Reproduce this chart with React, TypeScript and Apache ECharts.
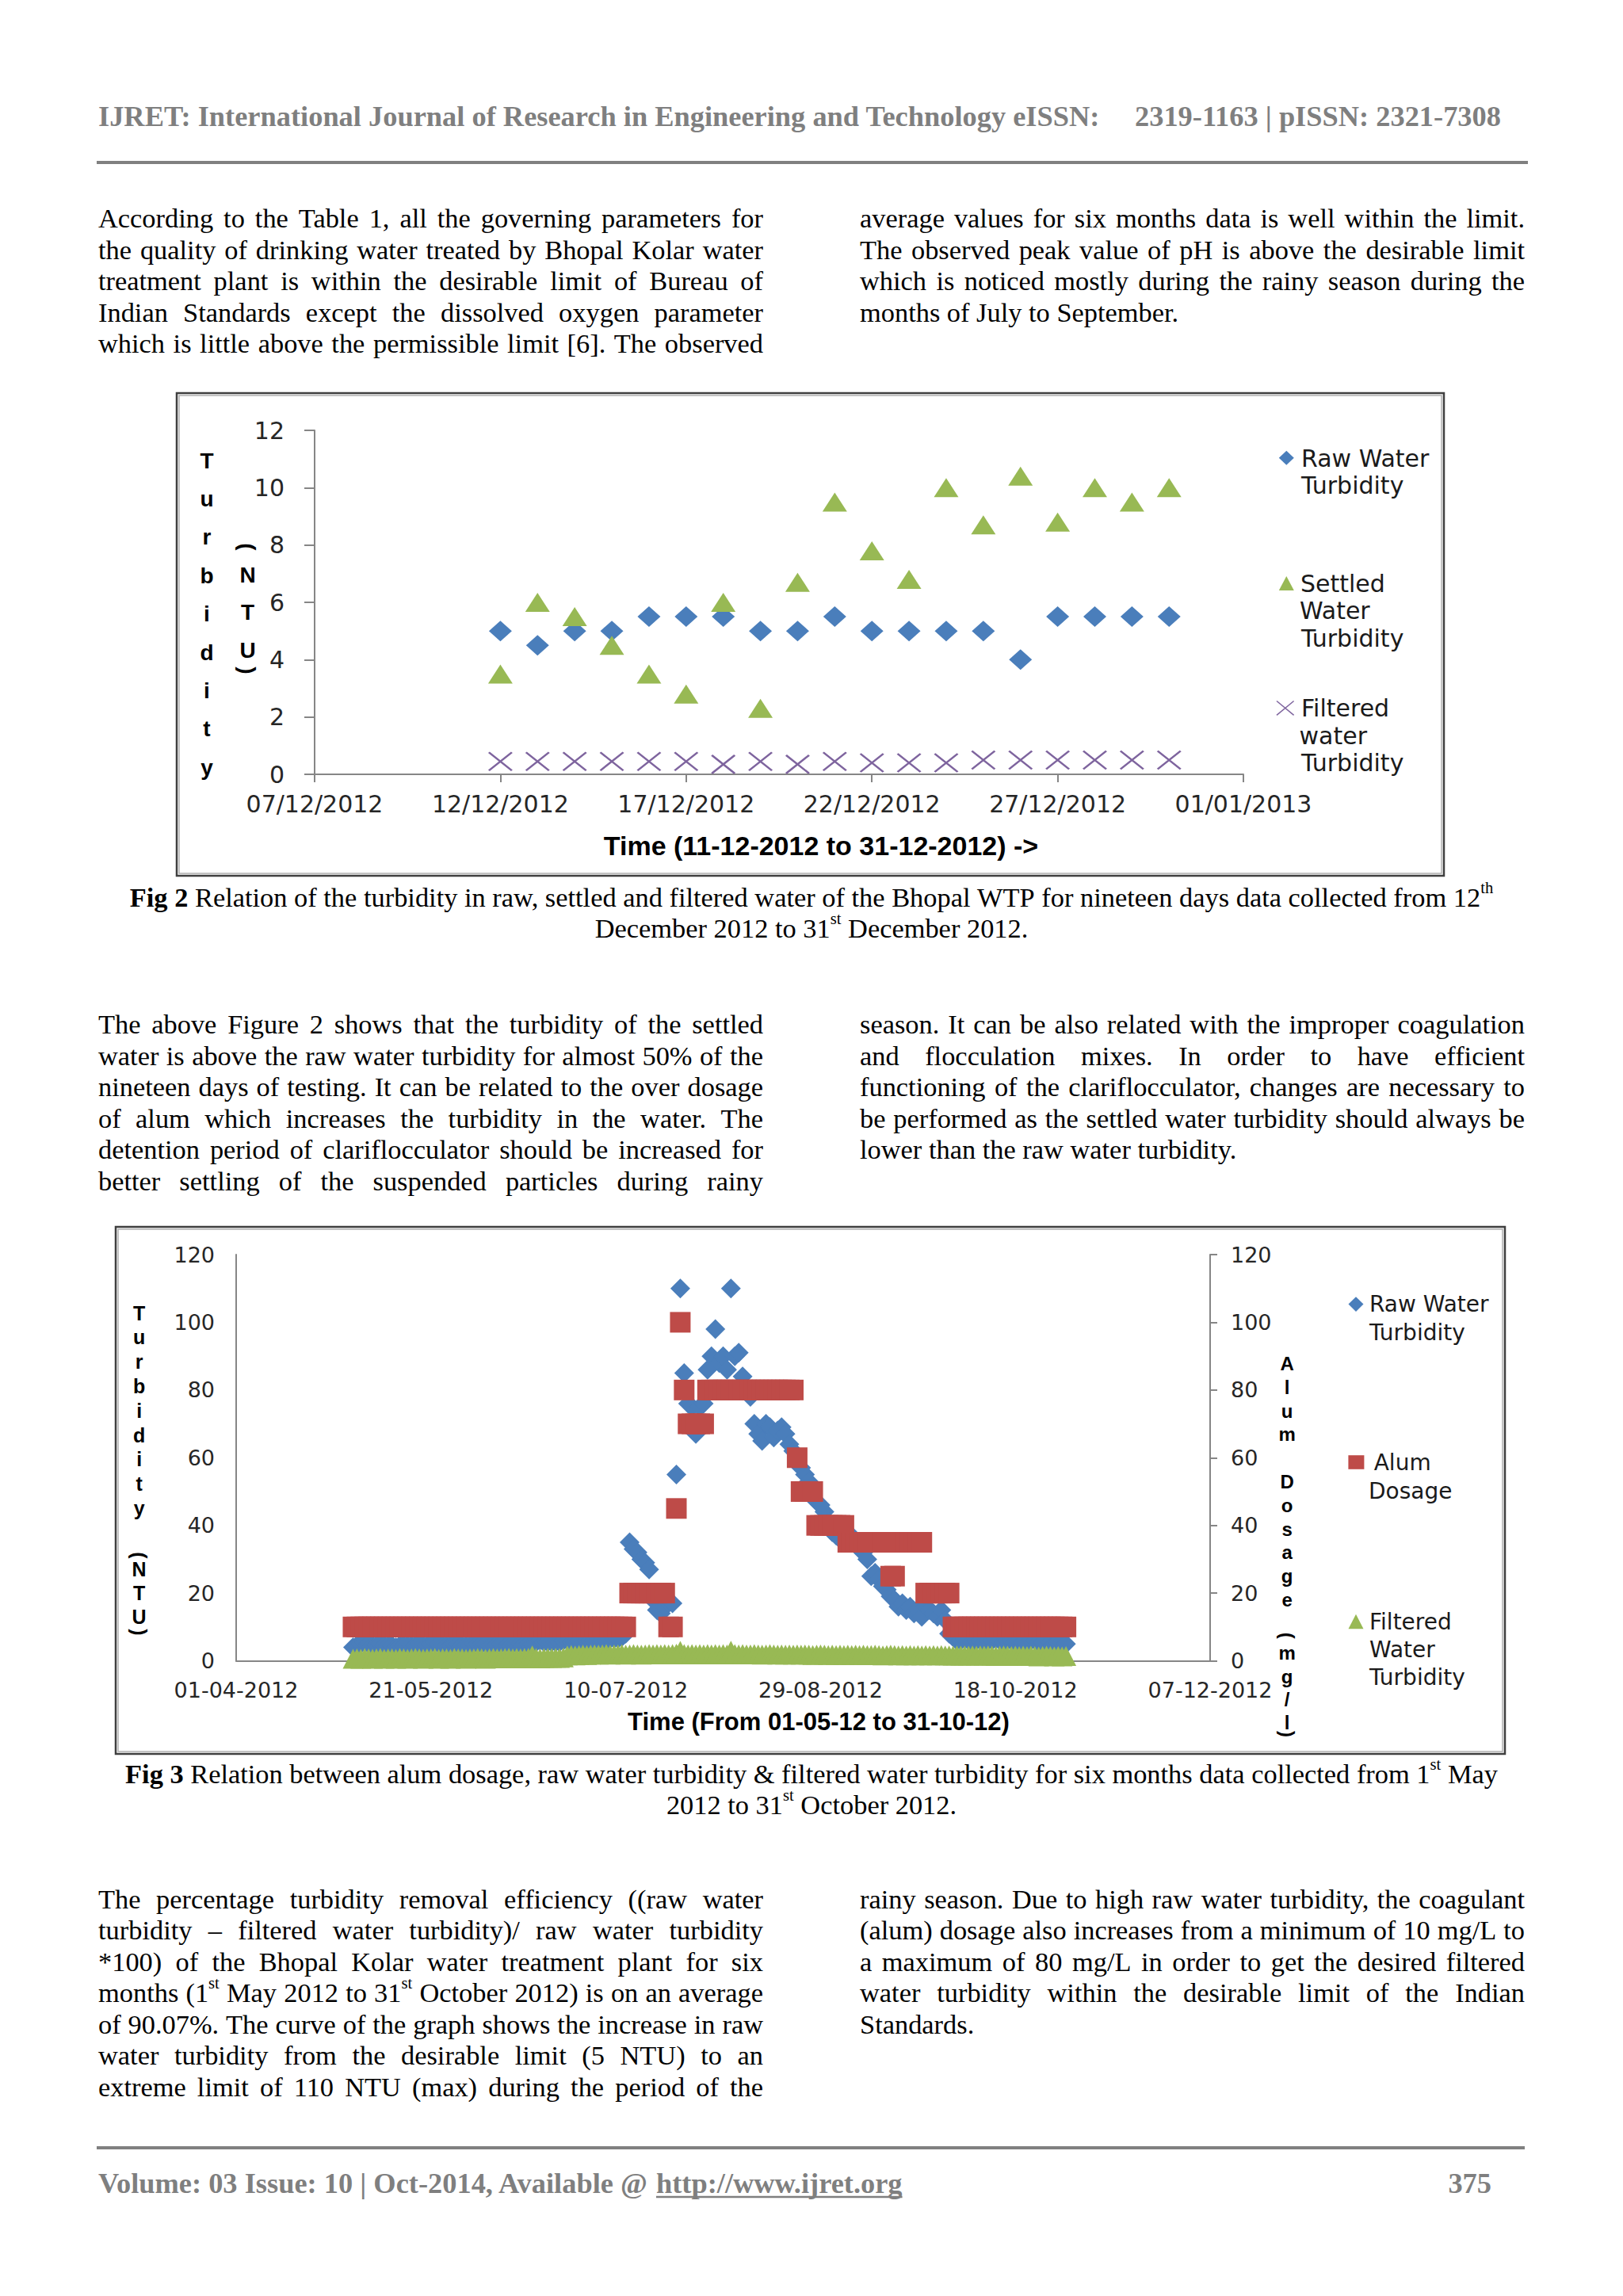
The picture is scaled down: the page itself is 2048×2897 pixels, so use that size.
import React, { useEffect, useRef } from 'react';
import * as echarts from 'echarts';

// ---------------- Fig 2 data (Dec 2012) ----------------
const fig2AxisStart = '07/12/2012';
const fig2AxisEnd = '01/01/2013';
const fig2Dates = [
  '12/12/2012', '13/12/2012', '14/12/2012', '15/12/2012', '16/12/2012', '17/12/2012', '18/12/2012',
  '19/12/2012', '20/12/2012', '21/12/2012', '22/12/2012', '23/12/2012', '24/12/2012', '25/12/2012',
  '26/12/2012', '27/12/2012', '28/12/2012', '29/12/2012', '30/12/2012',
];
const fig2Raw = [5, 4.5, 5, 5, 5.5, 5.5, 5.5, 5, 5, 5.5, 5, 5, 5, 5, 4, 5.5, 5.5, 5.5, 5.5];
const fig2Settled = [3.5, 6, 5.5, 4.5, 3.5, 2.8, 6, 2.3, 6.7, 9.5, 7.8, 6.8, 10, 8.7, 10.4, 8.8, 10, 9.5, 10];
const fig2Filtered = [0.45, 0.45, 0.45, 0.45, 0.45, 0.45, 0.35, 0.45, 0.35, 0.45, 0.4, 0.4, 0.4, 0.5, 0.5, 0.5, 0.5, 0.5, 0.5];
const fig2YTicks = { min: 0, max: 12, step: 2 };

// ---------------- Fig 3 data (daily, 01-05-2012 .. 31-10-2012) ----------------
const fig3AxisStart = '01-04-2012';
const fig3AxisEnd = '07-12-2012';
const fig3FirstDay = '01-05-2012';
const fig3YTicks = { min: 0, max: 120, step: 20 };

const fig3RawMay = [4, 4.5, 5, 5.5, 5, 4.5, 4.5, 5, 4.5, 4.5, 4.5, 4, 4.5, 4.5, 4.5, 4.5, 4.5, 5, 4.5, 4.5, 5, 5.5, 5, 4.5, 4.5, 4.5, 5, 5, 4.5, 4.5, 4.5];
const fig3RawJun = [5, 5, 5, 5, 4.5, 5, 5, 5, 5.5, 5, 5, 5, 5, 5, 5, 5, 5.5, 6, 5.5, 5.5, 5.5, 5.5, 5.5, 6, 6, 5.5, 5.5, 6, 6, 6];
const fig3RawJul = [6, 6, 6.5, 6, 6, 6.5, 6.5, 6.5, 7, 8, 35, 33, 32, 30, 29, 27, 18, 15, 14, 16, 17, 17, 55, 110, 85, 76, 75, 67, 75, 76, 86];
const fig3RawAug = [90, 98, 88, 90, 86, 110, 90, 91, 84, 80, 78, 70, 67, 65, 70, 69, 66, 68, 69, 67, 64, 62, 60, 57, 55, 53, 50, 47, 46, 44, 41];
const fig3RawSep = [38, 37, 36, 35, 38, 36, 35, 33, 32, 30, 25, 26, 24, 22, 21, 19, 18, 16, 17, 15, 16, 14, 15, 13, 16, 15, 14, 13, 15, 12];
const fig3RawOct = [8, 7, 6, 6, 6.5, 6, 5.5, 6, 6, 5.5, 6, 6, 6.5, 6, 5.5, 6, 6, 5.5, 6, 5.5, 5, 6, 6, 5.5, 5.5, 6, 5.5, 5, 5.5, 5.5, 5];

const fig3AlumMay = [10, 10, 10, 10, 10, 10, 10, 10, 10, 10, 10, 10, 10, 10, 10, 10, 10, 10, 10, 10, 10, 10, 10, 10, 10, 10, 10, 10, 10, 10, 10];
const fig3AlumJun = [10, 10, 10, 10, 10, 10, 10, 10, 10, 10, 10, 10, 10, 10, 10, 10, 10, 10, 10, 10, 10, 10, 10, 10, 10, 10, 10, 10, 10, 10];
const fig3AlumJul = [10, 10, 10, 10, 10, 10, 10, 10, 10, 10, 20, 20, 20, 20, 20, 20, 20, 20, 20, 20, 10, 10, 45, 100, 80, 70, 70, 70, 70, 70, 80];
const fig3AlumAug = [80, 80, 80, 80, 80, 80, 80, 80, 80, 80, 80, 80, 80, 80, 80, 80, 80, 80, 80, 80, 80, 80, 60, 50, 50, 50, 50, 40, 40, 40, 40];
const fig3AlumSep = [40, 40, 40, 40, 35, 35, 35, 35, 35, 35, 35, 35, 35, 35, 35, 25, 25, 35, 35, 35, 35, 35, 35, 35, 20, 20, 20, 20, 20, 20];
const fig3AlumOct = [20, 10, 10, 10, 10, 10, 10, 10, 10, 10, 10, 10, 10, 10, 10, 10, 10, 10, 10, 10, 10, 10, 10, 10, 10, 10, 10, 10, 10, 10, 10];

const fig3FiltMay = [0.6, 0.7, 0.6, 0.8, 0.7, 0.6, 0.7, 0.8, 0.6, 0.7, 0.7, 0.6, 0.8, 0.7, 0.6, 0.7, 0.8, 0.7, 0.6, 0.7, 0.7, 0.8, 0.6, 0.7, 0.7, 0.6, 0.8, 0.7, 0.7, 0.6, 0.7];
const fig3FiltJun = [0.7, 0.8, 0.7, 0.6, 0.7, 0.8, 0.7, 0.7, 0.8, 0.9, 0.7, 0.8, 0.7, 0.8, 0.9, 1.6, 0.8, 0.7, 0.8, 0.9, 0.8, 0.9, 0.8, 1.0, 1.6, 1.7, 1.6, 1.7, 1.8, 1.7];
const fig3FiltJul = [1.8, 1.9, 1.8, 1.9, 2.0, 1.8, 1.9, 1.9, 2.0, 1.8, 1.9, 2.0, 1.9, 1.8, 1.9, 2.0, 1.9, 2.0, 1.9, 2.0, 1.9, 2.0, 2.1, 2.9, 2.0, 1.9, 2.0, 1.9, 2.0, 1.9, 2.0];
const fig3FiltAug = [1.9, 2.0, 1.9, 2.0, 1.9, 3.0, 2.0, 1.9, 2.0, 1.9, 1.9, 2.0, 1.9, 1.8, 1.9, 2.0, 1.9, 1.8, 1.9, 1.8, 1.9, 1.8, 1.9, 1.8, 1.9, 1.8, 1.7, 1.8, 1.9, 1.8, 1.7];
const fig3FiltSep = [1.8, 1.7, 1.8, 1.7, 1.8, 1.7, 1.8, 1.7, 1.8, 1.7, 1.7, 1.8, 1.7, 1.6, 1.7, 1.8, 1.7, 1.6, 1.7, 1.6, 1.7, 1.6, 1.7, 1.6, 1.7, 1.6, 1.7, 1.6, 1.7, 1.6];
const fig3FiltOct = [1.6, 1.5, 1.6, 1.5, 1.6, 1.5, 1.6, 1.5, 1.6, 1.5, 1.6, 1.5, 1.4, 1.5, 1.6, 1.5, 1.4, 1.5, 1.4, 1.5, 1.4, 1.5, 1.4, 1.3, 1.4, 1.5, 1.4, 1.3, 1.4, 1.3, 1.4];

const fig3Raw = [...fig3RawMay, ...fig3RawJun, ...fig3RawJul, ...fig3RawAug, ...fig3RawSep, ...fig3RawOct];
const fig3Alum = [...fig3AlumMay, ...fig3AlumJun, ...fig3AlumJul, ...fig3AlumAug, ...fig3AlumSep, ...fig3AlumOct];
const fig3Filtered = [...fig3FiltMay, ...fig3FiltJun, ...fig3FiltJul, ...fig3FiltAug, ...fig3FiltSep, ...fig3FiltOct];

// ---------------- page text ----------------
const headerLeft = 'IJRET: International Journal of Research in Engineering and Technology eISSN:';
const headerRight = '2319-1163 | pISSN: 2321-7308';
const footerLeft = 'Volume: 03 Issue: 10 | Oct-2014, Available @';
const footerLink = 'http://www.ijret.org';
const footerPage = '375';

const para1Left = [
  'According to the Table 1, all the governing parameters for',
  'the quality of drinking water treated by Bhopal Kolar water',
  'treatment plant is within the desirable limit of Bureau of',
  'Indian Standards except the dissolved oxygen parameter',
  'which is little above the permissible limit [6]. The observed',
];
const para1Right = [
  'average values for six months data is well within the limit.',
  'The observed peak value of pH is above the desirable limit',
  'which is noticed mostly during the rainy season during the',
  'months of July to September.',
];
const caption1 = [
  '§Fig §2 Relation of the turbidity in raw, settled and filtered water of the Bhopal WTP for nineteen days data collected from 12^th',
  'December 2012 to 31^st December 2012.',
];
const para2Left = [
  'The above Figure 2 shows that the turbidity of the settled',
  'water is above the raw water turbidity for almost 50% of the',
  'nineteen days of testing. It can be related to the over dosage',
  'of alum which increases the turbidity in the water. The',
  'detention period of clariflocculator should be increased for',
  'better settling of the suspended particles during rainy',
];
const para2Right = [
  'season. It can be also related with the improper coagulation',
  'and flocculation mixes. In order to have efficient',
  'functioning of the clariflocculator, changes are necessary to',
  'be performed as the settled water turbidity should always be',
  'lower than the raw water turbidity.',
];
const caption2 = [
  '§Fig §3 Relation between alum dosage, raw water turbidity & filtered water turbidity for six months data collected from 1^st May',
  '2012 to 31^st October 2012.',
];
const para3Left = [
  'The percentage turbidity removal efficiency ((raw water',
  'turbidity \u2013 filtered water turbidity)/ raw water turbidity',
  '*100) of the Bhopal Kolar water treatment plant for six',
  'months (1^st May 2012 to 31^st October 2012) is on an average',
  'of 90.07%. The curve of the graph shows the increase in raw',
  'water turbidity from the desirable limit (5 NTU) to an',
  'extreme limit of 110 NTU (max) during the period of the',
];
const para3Right = [
  'rainy season. Due to high raw water turbidity, the coagulant',
  '(alum) dosage also increases from a minimum of 10 mg/L to',
  'a maximum of 80 mg/L in order to get the desired filtered',
  'water turbidity within the desirable limit of the Indian',
  'Standards.',
];

// ---------------- helpers ----------------
const SERIF = 'Liberation Serif';
const SANS = 'DejaVu Sans';
const ARIAL = 'Liberation Sans';
const BODY = 34.4;
const HEAD = 36.4;
const SUP = 0.6;
const DAY = 86400000;
const BLUE = '#4a7ebb';
const RED = '#be4b48';
const GREEN = '#98b954';
const PURPLE = '#7e649e';
const AXIS = '#868686';

function dmy(s: string) {
  const [d, m, y] = s.split(/[\/-]/).map(Number);
  return Date.UTC(y, m - 1, d);
}
function dayDiff(a: string, origin: string) {
  return Math.round((dmy(a) - dmy(origin)) / DAY);
}
function pad(n: number) {
  return n < 10 ? '0' + n : '' + n;
}
function fmtDate(origin: string, offset: number, sep: string) {
  const dt = new Date(dmy(origin) + offset * DAY);
  return pad(dt.getUTCDate()) + sep + pad(dt.getUTCMonth() + 1) + sep + dt.getUTCFullYear();
}

let mctx: CanvasRenderingContext2D | null = null;
function measure(t: string, size: number, bold: boolean, family: string) {
  if (!mctx) mctx = document.createElement('canvas').getContext('2d');
  mctx!.font = `${bold ? 'bold' : 'normal'} ${size}px "${family}"`;
  return mctx!.measureText(t).width;
}

function txt(text: string, x: number, y: number, size: number, opts: any = {}) {
  return {
    type: 'text',
    x,
    y,
    silent: true,
    rotation: opts.rotation || 0,
    style: {
      text,
      fontSize: size,
      fontFamily: opts.family || SERIF,
      fontWeight: opts.bold ? 'bold' : 'normal',
      fill: opts.color || '#000',
      align: opts.align || 'left',
      verticalAlign: 'middle',
      lineHeight: opts.lineHeight,
    },
  };
}

function textLine(line: string, x0: number, x1: number, y: number, mode: 'left' | 'center' | 'justify', opts: any = {}) {
  const size = opts.size || BODY;
  const family = opts.family || SERIF;
  const color = opts.color || '#000';
  const baseBold = !!opts.bold;
  const words = line.split(' ').filter((w) => w.length);
  const parsed = words.map((w) => {
    let bold = baseBold;
    let t = w;
    if (t.startsWith('§')) {
      bold = true;
      t = t.slice(1);
    }
    const parts = t.split('^');
    const main = parts[0];
    const sup = parts[1] || '';
    const wMain = measure(main, size, bold, family);
    const wSup = sup ? measure(sup, size * SUP, bold, family) : 0;
    return { main, sup, bold, wMain, width: wMain + wSup };
  });
  const total = parsed.reduce((s, p) => s + p.width, 0);
  let gap = measure(' ', size, baseBold, family);
  if (mode === 'justify' && parsed.length > 1) gap = (x1 - x0 - total) / (parsed.length - 1);
  const full = total + gap * (parsed.length - 1);
  let x = mode === 'center' ? (x0 + x1) / 2 - full / 2 : x0;
  const els: any[] = [];
  for (const p of parsed) {
    els.push(txt(p.main, x, y, size, { bold: p.bold, color, family }));
    if (p.sup) els.push(txt(p.sup, x + p.wMain, y - size * 0.36, size * SUP, { bold: p.bold, color, family }));
    x += p.width + gap;
  }
  return els;
}

function paragraph(lines: string[], x0: number, x1: number, y0: number, lastLeft: boolean) {
  const els: any[] = [];
  lines.forEach((l, i) => {
    const last = i === lines.length - 1;
    els.push(...textLine(l, x0, x1, y0 + i * 39.5, last && lastLeft ? 'left' : 'justify'));
  });
  return els;
}

function boxFrame(x: number, y: number, w: number, h: number) {
  return [
    { type: 'rect', silent: true, shape: { x, y, width: w, height: h }, style: { fill: 'none', stroke: '#3f3f3f', lineWidth: 2.5 } },
    { type: 'rect', silent: true, shape: { x: x + 3, y: y + 3, width: w - 6, height: h - 6 }, style: { fill: 'none', stroke: '#b0b0b0', lineWidth: 1.5 } },
  ];
}

function buildOption() {
  const g: any[] = [];
  const gray = '#7f7f7f';

  // header / footer
  g.push(txt(headerLeft, 124, 147, HEAD, { bold: true, color: gray }));
  g.push(txt(headerRight, 1432, 147, HEAD, { bold: true, color: gray }));
  g.push({ type: 'line', silent: true, shape: { x1: 122, y1: 205, x2: 1928, y2: 205 }, style: { stroke: '#808080', lineWidth: 4 } });
  g.push({ type: 'line', silent: true, shape: { x1: 122, y1: 2710, x2: 1924, y2: 2710 }, style: { stroke: '#808080', lineWidth: 4 } });
  g.push(txt(footerLeft, 124, 2755, HEAD, { bold: true, color: gray }));
  const linkX = 124 + measure(footerLeft + ' ', HEAD, true, SERIF);
  g.push(txt(footerLink, linkX, 2755, HEAD, { bold: true, color: gray }));
  g.push({
    type: 'line', silent: true,
    shape: { x1: linkX, y1: 2772, x2: linkX + measure(footerLink, HEAD, true, SERIF), y2: 2772 },
    style: { stroke: gray, lineWidth: 2.5 },
  });
  g.push(txt(footerPage, 1882, 2755, HEAD, { bold: true, color: gray, align: 'right' }));

  // paragraphs & captions
  g.push(...paragraph(para1Left, 124, 963, 275, false));
  g.push(...paragraph(para1Right, 1085, 1924, 275, true));
  g.push(...textLine(caption1[0], 0, 2048, 1132, 'center'));
  g.push(...textLine(caption1[1], 0, 2048, 1171, 'center'));
  g.push(...paragraph(para2Left, 124, 963, 1292, false));
  g.push(...paragraph(para2Right, 1085, 1924, 1292, true));
  g.push(...textLine(caption2[0], 0, 2048, 2238, 'center'));
  g.push(...textLine(caption2[1], 0, 2048, 2277, 'center'));
  g.push(...paragraph(para3Left, 124, 963, 2395.5, false));
  g.push(...paragraph(para3Right, 1085, 1924, 2395.5, true));

  // chart frames
  g.push(...boxFrame(223, 496, 1599, 609));
  g.push(...boxFrame(146, 1548, 1753, 665));

  // ---- Fig 2 titles ----
  const tb = { family: ARIAL, bold: true, color: '#000' };
  g.push(txt('T\nu\nr\nb\ni\nd\ni\nt\ny', 261, 774.7, 28, { ...tb, align: 'center', lineHeight: 48.4 }));
  g.push(txt('(', 312.6, 690, 28, { ...tb, align: 'center', rotation: -Math.PI / 2 }));
  g.push(txt('N\nT\nU', 312.6, 772.7, 28, { ...tb, align: 'center', lineHeight: 47.4 }));
  g.push(txt(')', 312.6, 846, 28, { ...tb, align: 'center', rotation: -Math.PI / 2 }));
  g.push(txt('Time (11-12-2012 to 31-12-2012) ->', 1036, 1067, 34, { ...tb, align: 'center' }));

  // Fig 2 legend
  const lg1 = { family: SANS, color: '#1a1a1a' };
  g.push({ type: 'polygon', silent: true, shape: { points: [[1623.3, 568.8], [1632.8, 577.8], [1623.3, 586.8], [1613.8, 577.8]] }, style: { fill: BLUE } });
  g.push(txt('Raw Water', 1642, 578, 30, lg1));
  g.push(txt('Turbidity', 1642, 612.5, 30, lg1));
  g.push({ type: 'polygon', silent: true, shape: { points: [[1623.3, 727], [1632.8, 745], [1613.8, 745]] }, style: { fill: GREEN } });
  g.push(txt('Settled', 1641, 736, 30, lg1));
  g.push(txt('Water', 1640, 770.5, 30, lg1));
  g.push(txt('Turbidity', 1642, 805, 30, lg1));
  g.push({ type: 'line', silent: true, shape: { x1: 1611, y1: 884.5, x2: 1632.6, y2: 902.3 }, style: { stroke: PURPLE, lineWidth: 1.5 } });
  g.push({ type: 'line', silent: true, shape: { x1: 1611, y1: 902.3, x2: 1632.6, y2: 884.5 }, style: { stroke: PURPLE, lineWidth: 1.5 } });
  g.push(txt('Filtered', 1642, 893.5, 30, lg1));
  g.push(txt('water', 1639.5, 928, 30, lg1));
  g.push(txt('Turbidity', 1642, 962.5, 30, lg1));

  // ---- Fig 3 titles ----
  g.push(txt('T\nu\nr\nb\ni\nd\ni\nt\ny', 175.6, 1779.8, 25, { ...tb, align: 'center', lineHeight: 30.8 }));
  g.push(txt('(', 175.6, 1962.5, 25, { ...tb, align: 'center', rotation: -Math.PI / 2 }));
  g.push(txt('N\nT\nU', 175.6, 2010, 25, { ...tb, align: 'center', lineHeight: 29.8 }));
  g.push(txt(')', 175.6, 2059.4, 25, { ...tb, align: 'center', rotation: -Math.PI / 2 }));
  g.push(txt('A\nl\nu\nm\n \nD\no\ns\na\ng\ne', 1624.2, 1869.5, 24, { ...tb, align: 'center', lineHeight: 29.8 }));
  g.push(txt('(', 1624.2, 2063.7, 24, { ...tb, align: 'center', rotation: -Math.PI / 2 }));
  g.push(txt('m\ng\n/\nl', 1624.2, 2129.8, 24, { ...tb, align: 'center', lineHeight: 29.3 }));
  g.push(txt(')', 1624.2, 2188, 24, { ...tb, align: 'center', rotation: -Math.PI / 2 }));
  g.push(txt('Time (From 01-05-12 to 31-10-12)', 1033, 2172, 31, { ...tb, align: 'center' }));

  // Fig 3 legend
  const lg2 = { family: SANS, color: '#1a1a1a' };
  g.push({ type: 'polygon', silent: true, shape: { points: [[1711, 1636.2], [1720.5, 1645.6], [1711, 1655], [1701.5, 1645.6]] }, style: { fill: BLUE } });
  g.push(txt('Raw Water', 1728, 1645.6, 28, lg2));
  g.push(txt('Turbidity', 1728, 1681.7, 28, lg2));
  g.push({ type: 'rect', silent: true, shape: { x: 1701.4, y: 1836.2, width: 20, height: 17.6 }, style: { fill: RED } });
  g.push(txt('Alum', 1733.7, 1845, 28, lg2));
  g.push(txt('Dosage', 1727, 1881, 28, lg2));
  g.push({ type: 'polygon', silent: true, shape: { points: [[1711, 2036.8], [1720.5, 2055.3], [1701.5, 2055.3]] }, style: { fill: GREEN } });
  g.push(txt('Filtered', 1728, 2046, 28, lg2));
  g.push(txt('Water', 1728, 2081.4, 28, lg2));
  g.push(txt('Turbidity', 1728, 2116.6, 28, lg2));

  // ---- series data through the axes ----
  const f2x = fig2Dates.map((d) => dayDiff(d, fig2AxisStart));
  const f3start = dayDiff(fig3FirstDay, fig3AxisStart);
  const f3pts = (arr: number[]) => arr.map((v, i) => [f3start + i, v]);

  const labelStyle = (size: number) => ({ fontFamily: SANS, fontSize: size, lineHeight: size, color: '#262626' });

  return {
    animation: false,
    backgroundColor: '#ffffff',
    grid: [
      { left: 397, top: 543, width: 1172, height: 434 },
      { left: 298, top: 1583, width: 1229, height: 512.5 },
    ],
    xAxis: [
      {
        gridIndex: 0, type: 'value', min: 0, max: dayDiff(fig2AxisEnd, fig2AxisStart), interval: 5,
        axisLine: { show: true, onZero: false, lineStyle: { color: AXIS, width: 2 } },
        axisTick: { show: true, inside: false, length: 10, lineStyle: { color: AXIS, width: 2 } },
        axisLabel: { ...labelStyle(30), margin: 22, formatter: (v: number) => fmtDate(fig2AxisStart, v, '/') },
        splitLine: { show: false },
      },
      {
        gridIndex: 1, type: 'value', min: 0, max: dayDiff(fig3AxisEnd, fig3AxisStart), interval: 50,
        axisLine: { show: true, onZero: false, lineStyle: { color: AXIS, width: 2 } },
        axisTick: { show: false },
        axisLabel: { ...labelStyle(27), margin: 23, formatter: (v: number) => fmtDate(fig3AxisStart, v, '-') },
        splitLine: { show: false },
      },
    ],
    yAxis: [
      {
        gridIndex: 0, type: 'value', min: fig2YTicks.min, max: fig2YTicks.max, interval: fig2YTicks.step,
        axisLine: { show: true, lineStyle: { color: AXIS, width: 2 } },
        axisTick: { show: true, inside: false, length: 13, lineStyle: { color: AXIS, width: 2 } },
        axisLabel: { ...labelStyle(30), margin: 38 },
        splitLine: { show: false },
      },
      {
        gridIndex: 1, type: 'value', min: fig3YTicks.min, max: fig3YTicks.max, interval: fig3YTicks.step,
        axisLine: { show: true, lineStyle: { color: AXIS, width: 2 } },
        axisTick: { show: false },
        axisLabel: { ...labelStyle(27), margin: 27 },
        splitLine: { show: false },
      },
      {
        gridIndex: 1, type: 'value', position: 'right', min: fig3YTicks.min, max: fig3YTicks.max, interval: fig3YTicks.step,
        axisLine: { show: true, lineStyle: { color: AXIS, width: 2 } },
        axisTick: { show: true, inside: false, length: 9, lineStyle: { color: AXIS, width: 2 } },
        axisLabel: { ...labelStyle(27), margin: 26 },
        splitLine: { show: false },
      },
    ],
    series: [
      {
        name: 'Raw Water Turbidity', type: 'scatter', xAxisIndex: 0, yAxisIndex: 0, clip: false,
        symbol: 'diamond', symbolSize: [29, 26], itemStyle: { color: BLUE, opacity: 1 },
        data: f2x.map((x, i) => [x, fig2Raw[i]]),
      },
      {
        name: 'Settled Water Turbidity', type: 'scatter', xAxisIndex: 0, yAxisIndex: 0, clip: false,
        symbol: 'triangle', symbolSize: [31, 24], itemStyle: { color: GREEN, opacity: 1 },
        data: f2x.map((x, i) => [x, fig2Settled[i]]),
      },
      {
        name: 'Filtered water Turbidity', type: 'scatter', xAxisIndex: 0, yAxisIndex: 0, clip: false,
        symbol: 'path://M0,0L10,10M10,0L0,10', symbolSize: [29, 23],
        itemStyle: { color: 'rgba(0,0,0,0)', borderColor: PURPLE, borderWidth: 2.5, opacity: 1 },
        data: f2x.map((x, i) => [x, fig2Filtered[i]]),
      },
      {
        name: 'Raw Water Turbidity (Fig 3)', type: 'scatter', xAxisIndex: 1, yAxisIndex: 1, clip: false,
        symbol: 'diamond', symbolSize: 25, itemStyle: { color: BLUE, opacity: 1 },
        data: f3pts(fig3Raw),
      },
      {
        name: 'Alum Dosage', type: 'scatter', xAxisIndex: 1, yAxisIndex: 2, clip: false,
        symbol: 'rect', symbolSize: 26, itemStyle: { color: RED, opacity: 1 },
        data: f3pts(fig3Alum),
      },
      {
        name: 'Filtered Water Turbidity (Fig 3)', type: 'scatter', xAxisIndex: 1, yAxisIndex: 1, clip: false,
        symbol: 'triangle', symbolSize: [26, 25], itemStyle: { color: GREEN, opacity: 1 },
        data: f3pts(fig3Filtered),
      },
    ],
    graphic: { elements: g },
  };
}

export default function App() {
  const ref = useRef<HTMLDivElement>(null);
  useEffect(() => {
    const chart = echarts.init(ref.current!, null, { renderer: 'svg' });
    chart.setOption(buildOption());
    return () => chart.dispose();
  }, []);
  return (
    <div
      ref={ref}
      style={{ position: 'absolute', left: 0, top: 0, width: 2048, height: 2897, background: '#fff' }}
    />
  );
}
